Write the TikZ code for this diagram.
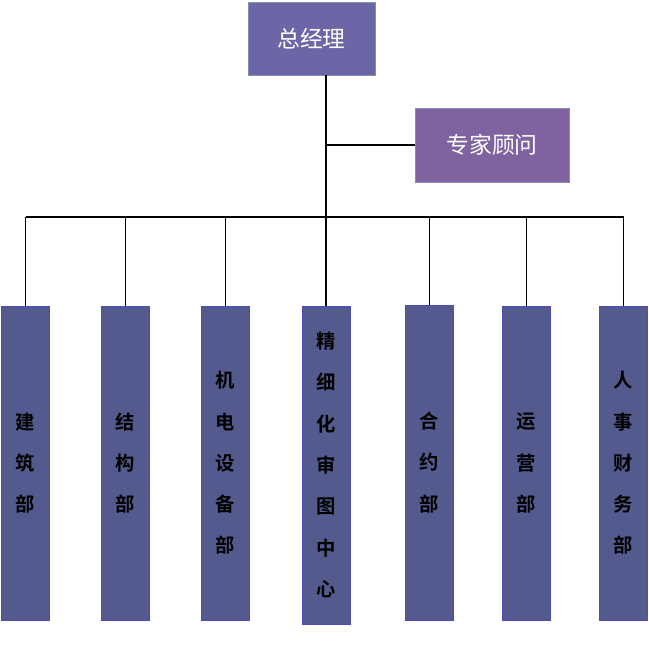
\documentclass[tikz,border=0pt]{standalone}
\usepackage{fontspec}
\setmainfont{Noto Sans CJK SC}
\newfontfamily\cjkbold{Noto Sans CJK SC Bold}
\usepackage{tikz}
\usetikzlibrary{arrows.meta,positioning,calc}
\definecolor{headblue}{HTML}{6B66A6}
\definecolor{advpurple}{HTML}{7F63A0}
\definecolor{deptblue}{HTML}{525A8E}
\begin{document}
\begin{tikzpicture}[x=0.02cm,y=-0.02cm,
    head/.style={draw=deptblue!70, fill=headblue, text=white, font=\fontsize{13pt}{15pt}\selectfont,
                 minimum width=127*0.02cm, minimum height=73*0.02cm, inner sep=0pt},
    dept/.style={draw=blue!40!gray, fill=deptblue, font=\cjkbold\fontsize{11pt}{23.5pt}\selectfont,
                 minimum width=48*0.02cm, align=center, inner sep=0pt},
    link/.style={line width=1.1pt}]
    \useasboundingbox (0,0) rectangle (649,666);

    % Top
    \node[head] (gm) at (311.5,38.5) {总经理};
    \node[head, fill=advpurple, minimum width=154*0.02cm, minimum height=74*0.02cm] (adv) at (492,145) {专家顾问};

    % Departments
    \node[dept, minimum height=314*0.02cm] (d1) at (25.5,463) {建\\筑\\部};
    \node[dept, minimum height=314*0.02cm] (d2) at (125.5,463) {结\\构\\部};
    \node[dept, minimum height=314*0.02cm] (d3) at (225.5,463) {机\\电\\设\\备\\部};
    \node[dept, minimum height=318*0.02cm] (d4) at (326,465) {精\\细\\化\\审\\图\\中\\心};
    \node[dept, minimum height=315*0.02cm] (d5) at (429.5,462.5) {合\\约\\部};
    \node[dept, minimum height=314*0.02cm] (d6) at (526.5,463) {运\\营\\部};
    \node[dept, minimum height=314*0.02cm] (d7) at (623.5,463) {人\\事\\财\\务\\部};

    % Lines
    \coordinate (bus) at (326,217);
    \draw[link] (gm.south -| bus) -- (d4.north);
    \draw[link] (adv.west) -- (adv.west -| bus);
    \draw[link] (bus -| d1.north) -- (bus -| d7.north);
    \foreach \d in {d1,d2,d3,d5,d6,d7}
        \draw[link] (bus -| \d.north) -- (\d.north);
\end{tikzpicture}
\end{document}
